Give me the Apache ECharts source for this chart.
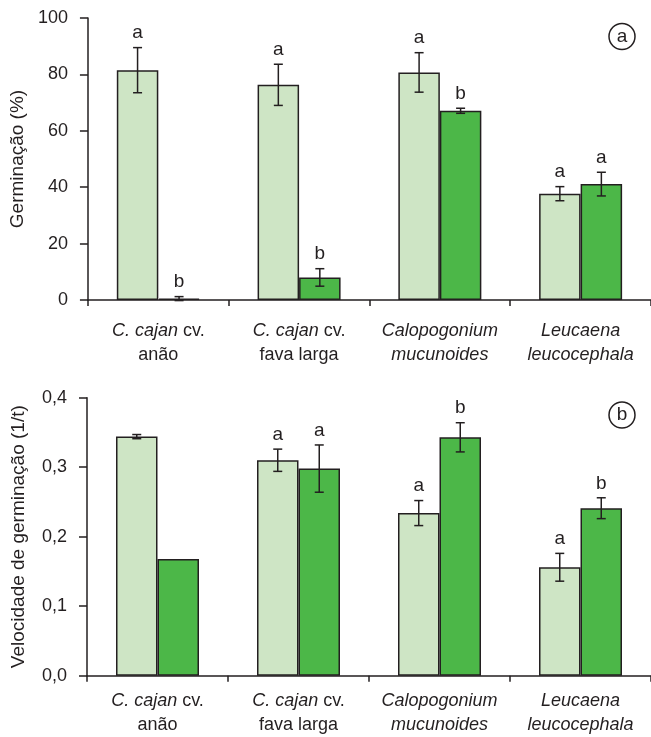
<!DOCTYPE html>
<html>
<head>
<meta charset="utf-8">
<script src="https://cdn.jsdelivr.net/npm/echarts@6/dist/echarts.min.js"></script>
<style>
html,body{margin:0;padding:0;background:#fff;}
#chart{width:651px;height:737px;}
</style>
</head>
<body>
<div id="chart"></div>
<script>
// ---- data ----
var categories = ['C. cajan cv. anão', 'C. cajan cv. fava larga', 'Calopogonium mucunoides', 'Leucaena leucocephala'];
var categoryLabels = [
  '{i|C. cajan} cv.\nanão',
  '{i|C. cajan} cv.\nfava larga',
  '{i|Calopogonium}\n{i|mucunoides}',
  '{i|Leucaena}\n{i|leucocephala}'
];
var germLight = [81.5, 76.3, 80.7, 37.7];
var germLightErr = [8.0, 7.3, 7.0, 2.5];
var germDark = [0.5, 8.0, 67.1, 41.1];
var germDarkErr = [0.7, 3.1, 0.9, 4.2];
var germLightLetters = ['a', 'a', 'a', 'a'];
var germDarkLetters = ['b', 'b', 'b', 'a'];

var velLight = [0.344, 0.310, 0.234, 0.156];
var velLightErr = [0.003, 0.016, 0.018, 0.020];
var velDark = [0.168, 0.298, 0.343, 0.241];
var velDarkErr = [0, 0.034, 0.021, 0.015];
var velLightLetters = ['', 'a', 'a', 'a'];
var velDarkLetters = ['', 'a', 'b', 'b'];

var germTicks = [0, 20, 40, 60, 80, 100];
var velTicks = ['0,0', '0,1', '0,2', '0,3', '0,4'];

// ---- styles ----
var LIGHT = '#cee5c5';
var DARK = '#4cb748';
var INK = '#231f20';
var FONT = '"Liberation Sans", Arial, Helvetica, sans-serif';
var BAR_W = 41.5;

function errSeries(xi, yi, vals, errs, letters, side) {
  var data = vals.map(function (v, i) { return [i, v, errs[i]]; });
  return {
    type: 'custom',
    xAxisIndex: xi, yAxisIndex: yi,
    silent: true,
    z: 5,
    data: data,
    renderItem: function (params, api) {
      var i = api.value(0), v = api.value(1), e = api.value(2);
      var letter = letters[i];
      var c = api.coord([i, v]);
      var x = c[0] + side * BAR_W / 2;
      var top = api.coord([i, v + e])[1];
      var bot = api.coord([i, v - e])[1];
      var children = [];
      var st = { stroke: INK, lineWidth: 1.5 };
      if (e > 0) {
        children.push({ type: 'line', shape: { x1: x, y1: top, x2: x, y2: bot }, style: st });
        children.push({ type: 'line', shape: { x1: x - 4.5, y1: top, x2: x + 4.5, y2: top }, style: st });
        children.push({ type: 'line', shape: { x1: x - 4.5, y1: bot, x2: x + 4.5, y2: bot }, style: st });
      }
      if (letter) {
        children.push({
          type: 'text',
          style: {
            x: x, y: top - 5, text: letter,
            align: 'center', verticalAlign: 'bottom',
            fontSize: 19, fontFamily: FONT, fill: INK
          }
        });
      }
      return { type: 'group', children: children };
    }
  };
}

function barSeries(xi, yi, vals, color) {
  return {
    type: 'bar',
    xAxisIndex: xi, yAxisIndex: yi,
    data: vals,
    barWidth: BAR_W,
    barGap: '0%',
    itemStyle: { color: color, borderColor: INK, borderWidth: 1.5 },
    silent: true,
    animation: false
  };
}

var axisLineStyle = { color: INK, width: 1.5 };

function xAxis(gi, margin) {
  return {
    type: 'category',
    gridIndex: gi,
    data: categories,
    boundaryGap: true,
    axisLine: { lineStyle: axisLineStyle },
    axisTick: { show: true, length: 6, lineStyle: axisLineStyle, alignWithLabel: false },
    axisLabel: {
      margin: margin,
      interval: 0,
      color: INK,
      fontSize: 18,
      fontFamily: FONT,
      lineHeight: 24,
      formatter: function (v, idx) { return categoryLabels[idx]; },
      rich: { i: { fontStyle: 'italic', fontSize: 18, fontFamily: FONT, color: INK, lineHeight: 24 } }
    }
  };
}

function yAxis(gi, min, max, interval, name, fmt) {
  return {
    type: 'value', gridIndex: gi, min: min, max: max, interval: interval,
    name: name, nameLocation: 'middle', nameGap: 59, nameRotate: 90,
    nameTextStyle: { fontSize: 19, fontFamily: FONT, color: INK },
    axisLine: { show: true, lineStyle: axisLineStyle },
    axisTick: { show: true, length: 8, lineStyle: axisLineStyle },
    splitLine: { show: false },
    axisLabel: { margin: 20, fontSize: 18, fontFamily: FONT, color: INK, formatter: fmt }
  };
}

var chart = echarts.init(document.getElementById('chart'), null, { renderer: 'canvas' });
chart.setOption({
  animation: false,
  backgroundColor: '#fff',
  grid: [
    { left: 87, right: 0, top: 18, height: 282 },
    { left: 87, right: 0, top: 397.7, height: 278 }
  ],
  xAxis: [xAxis(0, 19), xAxis(1, 13)],
  yAxis: [
    yAxis(0, 0, 100, 20, 'Germinação (%)', function (v) {
      var k = germTicks.indexOf(v); return k >= 0 ? String(germTicks[k]) : '';
    }),
    yAxis(1, 0, 0.4, 0.1, 'Velocidade de germinação (1/t)', function (v) {
      return velTicks[Math.round(v * 10)];
    })
  ],
  graphic: [
    { type: 'circle', shape: { cx: 622, cy: 36.5, r: 13 }, style: { fill: 'none', stroke: INK, lineWidth: 1.5 } },
    { type: 'text', style: { x: 622, y: 36.5, text: 'a', align: 'center', verticalAlign: 'middle', fontSize: 19, fontFamily: FONT, fill: INK } },
    { type: 'circle', shape: { cx: 622, cy: 415, r: 13 }, style: { fill: 'none', stroke: INK, lineWidth: 1.5 } },
    { type: 'text', style: { x: 622, y: 415, text: 'b', align: 'center', verticalAlign: 'middle', fontSize: 19, fontFamily: FONT, fill: INK } }
  ],
  series: [
    barSeries(0, 0, germLight, LIGHT),
    barSeries(0, 0, germDark, DARK),
    errSeries(0, 0, germLight, germLightErr, germLightLetters, -1),
    errSeries(0, 0, germDark, germDarkErr, germDarkLetters, 1),
    barSeries(1, 1, velLight, LIGHT),
    barSeries(1, 1, velDark, DARK),
    errSeries(1, 1, velLight, velLightErr, velLightLetters, -1),
    errSeries(1, 1, velDark, velDarkErr, velDarkLetters, 1)
  ]
});
</script>
</body>
</html>
